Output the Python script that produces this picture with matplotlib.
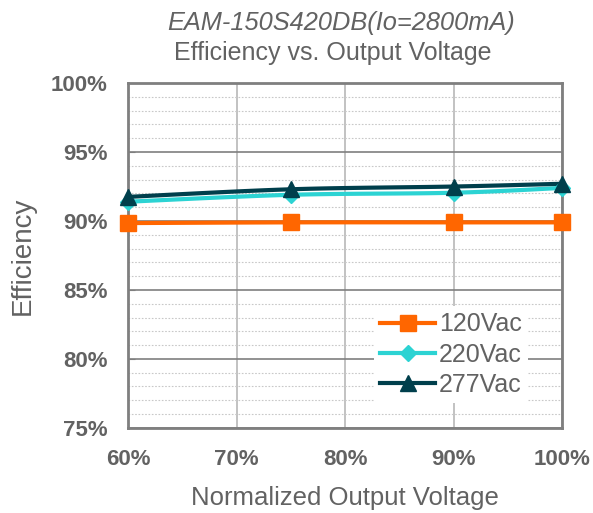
import numpy as np
import matplotlib
matplotlib.use("Agg")
from matplotlib import pyplot as plt
from matplotlib.ticker import MultipleLocator, FuncFormatter

plt.rcParams['font.family'] = ['Liberation Sans', 'DejaVu Sans']

# data
vout = [60, 75, 90, 100]
eff_120 = [89.85, 89.9, 89.9, 89.9]
eff_220 = [91.4, 91.9, 92.05, 92.4]
eff_277 = [91.75, 92.3, 92.5, 92.7]
series_names = ['120Vac', '220Vac', '277Vac']


def smooth(x, y, n=40, tension=0.5):
    # cardinal spline, like the smoothed lines in excel
    x = np.asarray(x, float)
    y = np.asarray(y, float)
    px = np.concatenate([[x[0]], x, [x[-1]]])
    py = np.concatenate([[y[0]], y, [y[-1]]])
    xs, ys = [], []
    for i in range(1, len(px) - 2):
        p0, p1, p2, p3 = (np.array([px[j], py[j]]) for j in (i - 1, i, i + 1, i + 2))
        m1 = tension * (p2 - p0)
        m2 = tension * (p3 - p1)
        t = np.linspace(0, 1, n)[:, None]
        h00 = 2 * t**3 - 3 * t**2 + 1
        h10 = t**3 - 2 * t**2 + t
        h01 = -2 * t**3 + 3 * t**2
        h11 = t**3 - t**2
        pts = h00 * p1 + h10 * m1 + h01 * p2 + h11 * m2
        xs.extend(pts[:, 0])
        ys.extend(pts[:, 1])
    return xs, ys


grey = '#626262'
fig = plt.figure(figsize=(5.93, 5.13), dpi=100)
ax = fig.add_axes([0.216, 0.166, 0.732, 0.672])

styles = [
    (eff_120, '#FF6600', 's', 12),
    (eff_220, '#2CD3D3', 'D', 8),
    (eff_277, '#003F4C', '^', 12),
]
for (vals, col, mk, ms), name in zip(styles, series_names):
    sx, sy = smooth(vout, vals)
    ax.plot(sx, sy, color=col, lw=3, zorder=3, clip_on=False)
    ax.plot(vout, vals, linestyle='none', marker=mk, ms=ms, color=col, zorder=4, clip_on=False)
    ax.plot([], [], color=col, lw=3, marker=mk, ms=ms, label=name)

ax.set_xlim(60, 100)
ax.set_ylim(75, 100)
ax.xaxis.set_major_locator(MultipleLocator(10))
ax.yaxis.set_major_locator(MultipleLocator(5))
ax.yaxis.set_minor_locator(MultipleLocator(1))
ax.xaxis.set_major_formatter(FuncFormatter(lambda v, p: '%d%%' % v))
ax.yaxis.set_major_formatter(FuncFormatter(lambda v, p: '%d%%' % v))

ax.grid(axis='y', which='major', color='#7f7f7f', lw=1.2)
ax.grid(axis='y', which='minor', color='#c8c8c8', lw=0.8, linestyle=(0, (1.5, 1.5)))
ax.grid(axis='x', which='major', color='#b8b8b8', lw=1.2)
ax.set_axisbelow(True)
for s in ax.spines.values():
    s.set_color('#7f7f7f')
    s.set_linewidth(2)

ax.tick_params(axis='both', which='both', length=0, labelcolor=grey, labelsize=16)
ax.tick_params(axis='y', which='major', length=5, color='#7f7f7f', direction='in', pad=15)
ax.tick_params(axis='x', pad=15)
for lab in ax.get_xticklabels() + ax.get_yticklabels():
    lab.set_fontweight('bold')

ax.set_xlabel('Normalized Output Voltage', fontsize=18.5, color=grey)
ax.xaxis.set_label_coords(0.5, -0.168)
ax.set_ylabel('Efficiency', fontsize=20, color=grey)
ax.yaxis.set_label_coords(-0.213, 0.5)

fig.text(341 / 593, 1 - 23 / 513, 'EAM-150S420DB(Io=2800mA)', style='italic', fontsize=18.3,
         color=grey, ha='center', va='center')
fig.text(333 / 593, 1 - 53 / 513, 'Efficiency vs. Output Voltage', fontsize=18,
         color=grey, ha='center', va='center')

leg = ax.legend(loc='lower right', bbox_to_anchor=(0.922, 0.072), frameon=True,
                fontsize=18, handlelength=2.2, labelspacing=0.25, borderpad=0.25,
                handletextpad=0.15, borderaxespad=0)
leg.get_frame().set_edgecolor('none')
leg.get_frame().set_facecolor('white')
leg.get_frame().set_alpha(1)
for t in leg.get_texts():
    t.set_color(grey)

fig.savefig('out.png', dpi=100)
